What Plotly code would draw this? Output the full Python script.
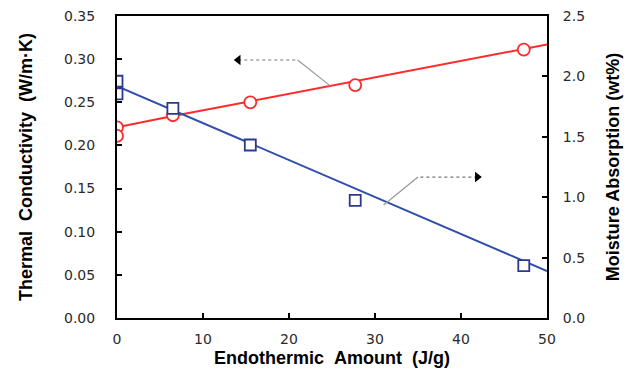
import plotly.graph_objects as go

# Data
endo_tc = [0, 0, 6.5, 15.5, 27.7, 47.3]
thermal_cond = [0.221, 0.211, 0.235, 0.250, 0.270, 0.311]
fit_tc_x = [0, 6.5, 50]
fit_tc_y = [0.221, 0.234, 0.317]

endo_ma = [0, 0, 6.5, 15.5, 27.7, 47.3]
moisture = [1.96, 1.855, 1.736, 1.432, 0.974, 0.433]
fit_ma_x = [0, 50]
fit_ma_y = [1.92, 0.389]

x_ticks = [0, 10, 20, 30, 40, 50]
y1_ticks = [0.00, 0.05, 0.10, 0.15, 0.20, 0.25, 0.30, 0.35]
y2_ticks = [0.0, 0.5, 1.0, 1.5, 2.0, 2.5]

x_title = "Endothermic&nbsp;&nbsp;Amount&nbsp;&nbsp;(J/g)"

# leader arrows (data coordinates): [arrow tip, dashed knee, point on line]
arrow1_x = [14.1, 21.0, 24.8]
arrow1_y = [0.299, 0.299, 0.269]
arrow2_x = [41.9, 35.0, 31.0]
arrow2_y = [1.167, 1.167, 0.935]

RED = "#FF2A2A"
BLUE = "#2F4EAA"
NAVY = "#2B3A8F"

fig = go.Figure()
fig.add_trace(go.Scatter(x=fit_tc_x, y=fit_tc_y, mode="lines", line=dict(color=RED, width=2, shape="spline"),
                         showlegend=False, hoverinfo="skip"))
fig.add_trace(go.Scatter(x=fit_ma_x, y=fit_ma_y, mode="lines", line=dict(color=BLUE, width=2),
                         yaxis="y2", showlegend=False, hoverinfo="skip"))
fig.add_trace(go.Scatter(x=endo_tc, y=thermal_cond, mode="markers",
                         marker=dict(symbol="circle", size=12, color="white", line=dict(color=RED, width=1.8)),
                         showlegend=False))
fig.add_trace(go.Scatter(x=endo_ma, y=moisture, mode="markers", yaxis="y2",
                         marker=dict(symbol="square", size=11, color="white", line=dict(color=NAVY, width=1.8)),
                         showlegend=False))

# leader lines
fig.add_trace(go.Scatter(x=arrow1_x[:2], y=arrow1_y[:2], mode="lines",
                         line=dict(color="#777777", width=1.2, dash="dot"), showlegend=False, hoverinfo="skip"))
fig.add_trace(go.Scatter(x=arrow1_x[1:], y=arrow1_y[1:], mode="lines",
                         line=dict(color="#999999", width=1.2), showlegend=False, hoverinfo="skip"))
fig.add_trace(go.Scatter(x=arrow2_x[:2], y=arrow2_y[:2], mode="lines", yaxis="y2",
                         line=dict(color="#777777", width=1.2, dash="dot"), showlegend=False, hoverinfo="skip"))
fig.add_trace(go.Scatter(x=arrow2_x[1:], y=arrow2_y[1:], mode="lines", yaxis="y2",
                         line=dict(color="#999999", width=1.2), showlegend=False, hoverinfo="skip"))
fig.add_trace(go.Scatter(x=[arrow1_x[0]], y=[arrow1_y[0]], mode="markers",
                         marker=dict(symbol="triangle-left", size=9, color="black"),
                         showlegend=False, hoverinfo="skip"))
fig.add_trace(go.Scatter(x=[arrow2_x[0]], y=[arrow2_y[0]], mode="markers", yaxis="y2",
                         marker=dict(symbol="triangle-right", size=9, color="black"),
                         showlegend=False, hoverinfo="skip"))

tickfont = dict(family="DejaVu Sans", size=14, color="#2a2a2a")
titlefont = dict(family="Liberation Sans", size=18, color="black")

fig.update_layout(
    width=627, height=364,
    margin=dict(l=109, r=88, t=8, b=54, autoexpand=False),
    paper_bgcolor="white", plot_bgcolor="white",
    xaxis=dict(range=[0, 50], tickvals=x_ticks, ticks="inside", ticklen=5, tickwidth=1.5,
               tickcolor="black", showline=True, linecolor="black", linewidth=2, mirror=True,
               showgrid=False, zeroline=False, tickfont=tickfont, ticklabelstandoff=7, automargin=False,
               ticklabeloverflow="allow"),
    yaxis=dict(range=[0, 0.35], tickvals=y1_ticks, tickformat=".2f", ticks="inside", ticklen=5, tickwidth=1.5,
               tickcolor="black", showline=True, linecolor="black", linewidth=2, automargin=False,
               showgrid=False, zeroline=False, tickfont=tickfont, ticklabelstandoff=17,
               ticklabeloverflow="allow",
               title=dict(text="<b>Thermal&nbsp;&nbsp;Conductivity&nbsp;&nbsp;(W/m·K)</b>", font=titlefont, standoff=27)),
    yaxis2=dict(range=[0, 2.5], tickvals=y2_ticks, tickformat=".1f", ticks="inside", ticklen=5, tickwidth=1.5,
                tickcolor="black", showline=True, linecolor="black", linewidth=2, automargin=False,
                overlaying="y", side="right", showgrid=False, zeroline=False, tickfont=tickfont,
                ticklabelstandoff=11, ticklabeloverflow="allow",
                title=dict(text="<b>Moisture Absorption (wt%)</b>", font=titlefont, standoff=22)),
    annotations=[dict(text="<b>" + x_title + "</b>", xref="paper", yref="paper", x=0.5, y=-0.133,
                      xanchor="center", yanchor="middle", showarrow=False, font=titlefont)],
)

fig.write_html("out.html")
